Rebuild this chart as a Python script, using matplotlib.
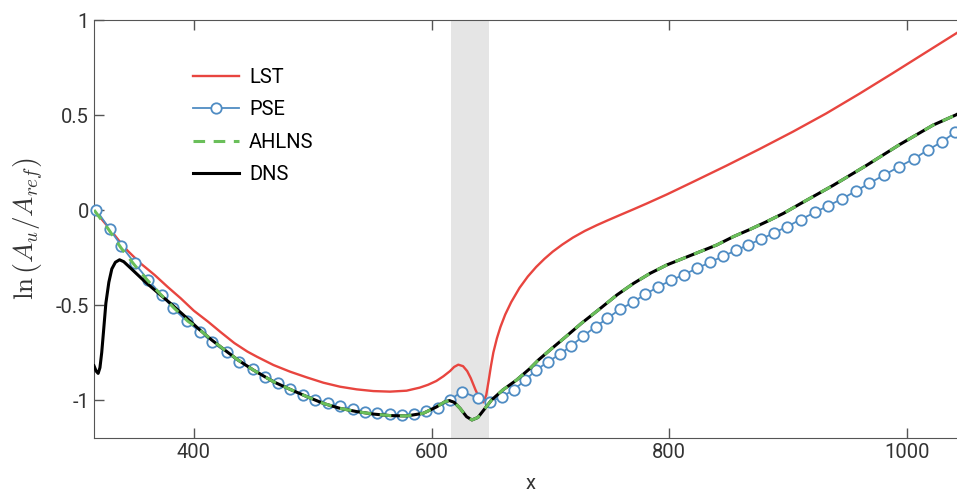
import matplotlib
matplotlib.use("Agg")
import matplotlib.pyplot as plt

plt.rcParams['font.family'] = ['Roboto', 'DejaVu Sans']
plt.rcParams['mathtext.fontset'] = 'cm'

# ---- data ----
lst_x = [316, 328, 340, 344.4, 355, 367, 378, 389, 400, 412, 423, 434, 445, 453, 467, 481,
         495, 509, 523, 537, 551, 565, 579, 590, 597, 604, 610, 615.5, 619, 622.5, 626.5,
         630, 633, 637, 641, 643.5, 646, 648, 650, 652, 655, 658, 662, 667, 674, 681, 688,
         695, 702, 710, 719, 729, 739, 748, 758, 770, 781, 798, 820, 848, 876, 904, 932,
         960, 988, 1016, 1042, 1050]
lst_y = [0.0, -0.09, -0.185, -0.215, -0.28, -0.342, -0.405, -0.465, -0.53, -0.588, -0.645,
         -0.70, -0.745, -0.772, -0.816, -0.851, -0.881, -0.909, -0.930, -0.944, -0.953,
         -0.956, -0.951, -0.935, -0.92, -0.90, -0.875, -0.848, -0.826, -0.814, -0.822,
         -0.848, -0.885, -0.947, -1.0, -1.012, -0.975, -0.90, -0.82, -0.75, -0.675, -0.615,
         -0.55, -0.485, -0.41, -0.35, -0.30, -0.257, -0.219, -0.182, -0.145, -0.11, -0.08,
         -0.055, -0.028, 0.004, 0.034, 0.082, 0.148, 0.233, 0.321, 0.412, 0.508, 0.612,
         0.72, 0.83, 0.932, 0.963]

pse_x = [318, 329.3, 339.1, 350.3, 361.5, 372.8, 382.6, 393.9, 405.1, 415.4, 427.5, 438.1,
         449.6, 460, 471, 481, 491.5, 502, 513, 523, 533.6, 544, 554.3, 565, 575.5, 585,
         595, 605.5, 615.5, 625.3, 639.5, 649.5, 659.5, 669, 679, 688, 698.3, 708.1, 717.3,
         727.7, 738.1, 748, 758.6, 769.6, 780, 790.5, 801.5, 812.3, 823.4, 834.3, 845, 856,
         866.6, 877.5, 888.2, 899.3, 910.5, 922.7, 933.9, 945.2, 957, 968.4, 980.8, 993.4,
         1005.5, 1017.6, 1029.4, 1040.6, 1052]
pse_y = [0.0, -0.102, -0.189, -0.281, -0.368, -0.447, -0.518, -0.584, -0.640, -0.696, -0.749,
         -0.798, -0.836, -0.877, -0.910, -0.941, -0.974, -1.0, -1.014, -1.032, -1.046,
         -1.061, -1.070, -1.072, -1.077, -1.072, -1.059, -1.040, -1.0, -0.956, -0.990,
         -1.009, -0.982, -0.947, -0.895, -0.842, -0.798, -0.758, -0.716, -0.663, -0.614,
         -0.570, -0.522, -0.485, -0.443, -0.405, -0.370, -0.340, -0.307, -0.275, -0.244,
         -0.213, -0.183, -0.153, -0.120, -0.087, -0.050, -0.012, 0.023, 0.058, 0.100, 0.141,
         0.184, 0.228, 0.268, 0.316, 0.359, 0.409, 0.455]

dns_x = [316, 317.8, 319.5, 321, 322.5, 324, 326, 328.5, 331, 334, 337.5, 341, 347, 358.5,
         370, 381, 392, 403, 415, 426, 437, 450, 467, 481, 495, 509, 523, 537, 551, 565, 579,
         593, 604, 611, 615, 619, 624, 629.5, 634, 639, 645, 650.5, 660, 671.5, 683, 690, 700,
         712, 726, 742, 756, 770, 784, 798, 812, 826, 840, 854, 868, 882, 896, 910, 938, 966,
         994, 1022, 1041, 1050]
dns_y = [-0.82, -0.848, -0.86, -0.83, -0.75, -0.64, -0.49, -0.38, -0.31, -0.275, -0.262,
         -0.272, -0.307, -0.375, -0.437, -0.495, -0.557, -0.620, -0.684, -0.737, -0.789,
         -0.842, -0.904, -0.944, -0.982, -1.018, -1.044, -1.061, -1.074, -1.082, -1.084,
         -1.07, -1.037, -1.01, -1.003, -1.012, -1.044, -1.088, -1.105, -1.092, -1.044, -1.0,
         -0.947, -0.895, -0.833, -0.789, -0.735, -0.672, -0.597, -0.518, -0.447, -0.386,
         -0.333, -0.289, -0.254, -0.219, -0.184, -0.140, -0.102, -0.061, -0.018, 0.032,
         0.130, 0.235, 0.345, 0.447, 0.50, 0.53]

# AHLNS follows PSE at the inflow, then lies on top of DNS
ahlns_head_x = [316, 327.6, 338.8, 350, 361.3, 372.5, 383.7, 394.9]
ahlns_head_y = [0.0, -0.096, -0.200, -0.289, -0.372, -0.447, -0.518, -0.585]
ahlns_x = ahlns_head_x + dns_x[17:]
ahlns_y = ahlns_head_y + dns_y[17:]

band = (616, 648)

fig = plt.figure(figsize=(9.57, 4.95), dpi=100)
ax = fig.add_axes([94 / 957, 1 - 438 / 495, (966.4 - 94) / 957, 418 / 495])

ax.axvspan(band[0], band[1], color='#e5e5e5', lw=0, zorder=0)
ax.plot(lst_x, lst_y, color='#e8453f', lw=1.7, label='LST', zorder=2)
ax.plot(pse_x, pse_y, color='#4f8cc3', lw=1.3, marker='o', ms=7.5, mfc='white',
        mec='#4f8cc3', mew=1.3, label='PSE', zorder=3, clip_on=False)
ax.plot(dns_x, dns_y, color='black', lw=2.2, zorder=4)
ax.plot(ahlns_x, ahlns_y, color='#6abf5a', lw=2.2, ls=(0, (3.8, 2.8)), label='AHLNS', zorder=5)
ax.plot([], [], color='black', lw=2.2, label='DNS')

ax.set_xlim(316, 1050)
ax.set_ylim(-1.2, 1)
ax.set_xticks([400, 600, 800, 1000])
ax.set_yticks([-1, -0.5, 0, 0.5, 1])
ax.set_yticklabels(['-1', '-0.5', '0', '0.5', '1'])
ax.tick_params(direction='in', length=7, width=1, colors='#555555', labelcolor='#333333',
               labelsize=14.5, top=True, right=False)
for s in ['left', 'bottom', 'top']:
    ax.spines[s].set_color('#555555')
ax.spines['right'].set_visible(False)

ax.set_xlabel('x', fontsize=14.5, color='#333333', labelpad=9)
ax.set_ylabel(r'$\ln\left(A_u/A_{ref}\right)$', fontsize=19.5, color='#333333', labelpad=8)

leg = ax.legend(loc='upper left', bbox_to_anchor=(0.113, 0.885), frameon=False,
                fontsize=14.5, handlelength=2.3, handletextpad=0.5, labelspacing=0.66,
                borderpad=0, borderaxespad=0)

fig.savefig('out.png', dpi=100)
